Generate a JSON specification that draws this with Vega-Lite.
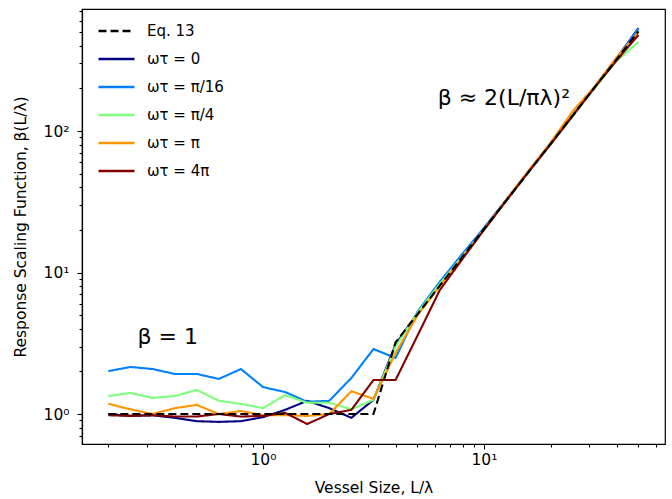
{
  "$schema": "https://vega.github.io/schema/vega-lite/v6.json",
  "width": 583,
  "height": 435,
  "autosize": {"type": "none"},
  "padding": {"left": 82, "top": 9, "right": 7, "bottom": 55},
  "background": "white",
  "config": {
    "view": {"stroke": "black", "strokeWidth": 1.2},
    "font": "DejaVu Sans",
    "axis": {
      "domainColor": "black", "domainWidth": 1.2, "tickColor": "black", "tickWidth": 1.1,
      "labelColor": "black", "titleColor": "black", "labelFont": "DejaVu Sans", "titleFont": "DejaVu Sans",
      "labelFontSize": 15.5, "titleFontSize": 15.5, "titleFontWeight": "normal", "grid": false
    },
    "legend": {"labelFont": "DejaVu Sans", "labelFontSize": 15, "labelColor": "black"}
  },
  "datasets": {
    "lines": [
      {"x": 0.2, "y": 1, "s": "Eq. 13"}, {"x": 0.2517, "y": 1, "s": "Eq. 13"}, {"x": 0.3169, "y": 1, "s": "Eq. 13"}, {"x": 0.3989, "y": 1, "s": "Eq. 13"}, {"x": 0.5021, "y": 1, "s": "Eq. 13"}, {"x": 0.632, "y": 1, "s": "Eq. 13"}, {"x": 0.7955, "y": 1, "s": "Eq. 13"}, {"x": 1.0013, "y": 1, "s": "Eq. 13"}, {"x": 1.2604, "y": 1, "s": "Eq. 13"}, {"x": 1.5865, "y": 1, "s": "Eq. 13"}, {"x": 1.997, "y": 1, "s": "Eq. 13"}, {"x": 2.5136, "y": 1, "s": "Eq. 13"}, {"x": 3.164, "y": 1, "s": "Eq. 13"}, {"x": 3.9826, "y": 3.21, "s": "Eq. 13"}, {"x": 5.013, "y": 5.09, "s": "Eq. 13"}, {"x": 6.3099, "y": 8.07, "s": "Eq. 13"}, {"x": 7.9424, "y": 12.78, "s": "Eq. 13"}, {"x": 9.9973, "y": 20.25, "s": "Eq. 13"}, {"x": 12.584, "y": 32.09, "s": "Eq. 13"}, {"x": 15.839, "y": 50.84, "s": "Eq. 13"}, {"x": 19.937, "y": 80.55, "s": "Eq. 13"}, {"x": 25.095, "y": 127.6, "s": "Eq. 13"}, {"x": 31.588, "y": 202.2, "s": "Eq. 13"}, {"x": 39.761, "y": 320.4, "s": "Eq. 13"}, {"x": 50.0, "y": 506.6, "s": "Eq. 13"},

      {"x": 0.2, "y": 1.0, "s": "ωτ = 0"}, {"x": 0.2517, "y": 0.97, "s": "ωτ = 0"}, {"x": 0.3169, "y": 0.98, "s": "ωτ = 0"}, {"x": 0.3989, "y": 0.94, "s": "ωτ = 0"}, {"x": 0.5021, "y": 0.89, "s": "ωτ = 0"}, {"x": 0.632, "y": 0.88, "s": "ωτ = 0"}, {"x": 0.7955, "y": 0.89, "s": "ωτ = 0"}, {"x": 1.0013, "y": 0.95, "s": "ωτ = 0"}, {"x": 1.2604, "y": 1.07, "s": "ωτ = 0"}, {"x": 1.5865, "y": 1.24, "s": "ωτ = 0"}, {"x": 1.997, "y": 1.1, "s": "ωτ = 0"}, {"x": 2.5136, "y": 0.94, "s": "ωτ = 0"}, {"x": 3.164, "y": 1.26, "s": "ωτ = 0"}, {"x": 3.9826, "y": 3.1, "s": "ωτ = 0"}, {"x": 5.013, "y": 5.2, "s": "ωτ = 0"}, {"x": 6.3099, "y": 8.3, "s": "ωτ = 0"}, {"x": 7.9424, "y": 13.0, "s": "ωτ = 0"}, {"x": 9.9973, "y": 20.5, "s": "ωτ = 0"}, {"x": 12.584, "y": 32.5, "s": "ωτ = 0"}, {"x": 15.839, "y": 51, "s": "ωτ = 0"}, {"x": 19.937, "y": 81, "s": "ωτ = 0"}, {"x": 25.095, "y": 128, "s": "ωτ = 0"}, {"x": 31.588, "y": 204, "s": "ωτ = 0"}, {"x": 39.761, "y": 325, "s": "ωτ = 0"}, {"x": 50.0, "y": 534, "s": "ωτ = 0"},

      {"x": 0.2, "y": 2.01, "s": "ωτ = π/16"}, {"x": 0.2517, "y": 2.15, "s": "ωτ = π/16"}, {"x": 0.3169, "y": 2.08, "s": "ωτ = π/16"}, {"x": 0.3989, "y": 1.92, "s": "ωτ = π/16"}, {"x": 0.5021, "y": 1.92, "s": "ωτ = π/16"}, {"x": 0.632, "y": 1.77, "s": "ωτ = π/16"}, {"x": 0.7955, "y": 2.08, "s": "ωτ = π/16"}, {"x": 1.0013, "y": 1.55, "s": "ωτ = π/16"}, {"x": 1.2604, "y": 1.43, "s": "ωτ = π/16"}, {"x": 1.5865, "y": 1.22, "s": "ωτ = π/16"}, {"x": 1.997, "y": 1.24, "s": "ωτ = π/16"}, {"x": 2.5136, "y": 1.8, "s": "ωτ = π/16"}, {"x": 3.164, "y": 2.88, "s": "ωτ = π/16"}, {"x": 3.9826, "y": 2.49, "s": "ωτ = π/16"}, {"x": 5.013, "y": 5.3, "s": "ωτ = π/16"}, {"x": 6.3099, "y": 8.6, "s": "ωτ = π/16"}, {"x": 7.9424, "y": 13.4, "s": "ωτ = π/16"}, {"x": 9.9973, "y": 20.6, "s": "ωτ = π/16"}, {"x": 12.584, "y": 32.4, "s": "ωτ = π/16"}, {"x": 15.839, "y": 51, "s": "ωτ = π/16"}, {"x": 19.937, "y": 80, "s": "ωτ = π/16"}, {"x": 25.095, "y": 127, "s": "ωτ = π/16"}, {"x": 31.588, "y": 203, "s": "ωτ = π/16"}, {"x": 39.761, "y": 325, "s": "ωτ = π/16"}, {"x": 50.0, "y": 530, "s": "ωτ = π/16"},

      {"x": 0.2, "y": 1.34, "s": "ωτ = π/4"}, {"x": 0.2517, "y": 1.41, "s": "ωτ = π/4"}, {"x": 0.3169, "y": 1.3, "s": "ωτ = π/4"}, {"x": 0.3989, "y": 1.34, "s": "ωτ = π/4"}, {"x": 0.5021, "y": 1.48, "s": "ωτ = π/4"}, {"x": 0.632, "y": 1.24, "s": "ωτ = π/4"}, {"x": 0.7955, "y": 1.18, "s": "ωτ = π/4"}, {"x": 1.0013, "y": 1.1, "s": "ωτ = π/4"}, {"x": 1.2604, "y": 1.36, "s": "ωτ = π/4"}, {"x": 1.5865, "y": 1.2, "s": "ωτ = π/4"}, {"x": 1.997, "y": 1.2, "s": "ωτ = π/4"}, {"x": 2.5136, "y": 1.08, "s": "ωτ = π/4"}, {"x": 3.164, "y": 1.26, "s": "ωτ = π/4"}, {"x": 3.9826, "y": 3.0, "s": "ωτ = π/4"}, {"x": 5.013, "y": 5.2, "s": "ωτ = π/4"}, {"x": 6.3099, "y": 8.3, "s": "ωτ = π/4"}, {"x": 7.9424, "y": 12.9, "s": "ωτ = π/4"}, {"x": 9.9973, "y": 20.0, "s": "ωτ = π/4"}, {"x": 12.584, "y": 32.0, "s": "ωτ = π/4"}, {"x": 15.839, "y": 51, "s": "ωτ = π/4"}, {"x": 19.937, "y": 80, "s": "ωτ = π/4"}, {"x": 25.095, "y": 126, "s": "ωτ = π/4"}, {"x": 31.588, "y": 200, "s": "ωτ = π/4"}, {"x": 39.761, "y": 312, "s": "ωτ = π/4"}, {"x": 50.0, "y": 425, "s": "ωτ = π/4"},

      {"x": 0.2, "y": 1.18, "s": "ωτ = π"}, {"x": 0.2517, "y": 1.08, "s": "ωτ = π"}, {"x": 0.3169, "y": 1.0, "s": "ωτ = π"}, {"x": 0.3989, "y": 1.1, "s": "ωτ = π"}, {"x": 0.5021, "y": 1.16, "s": "ωτ = π"}, {"x": 0.632, "y": 1.0, "s": "ωτ = π"}, {"x": 0.7955, "y": 1.05, "s": "ωτ = π"}, {"x": 1.0013, "y": 0.98, "s": "ωτ = π"}, {"x": 1.2604, "y": 0.98, "s": "ωτ = π"}, {"x": 1.5865, "y": 0.97, "s": "ωτ = π"}, {"x": 1.997, "y": 1.0, "s": "ωτ = π"}, {"x": 2.5136, "y": 1.45, "s": "ωτ = π"}, {"x": 3.164, "y": 1.28, "s": "ωτ = π"}, {"x": 3.9826, "y": 2.7, "s": "ωτ = π"}, {"x": 5.013, "y": 5.0, "s": "ωτ = π"}, {"x": 6.3099, "y": 8.0, "s": "ωτ = π"}, {"x": 7.9424, "y": 12.6, "s": "ωτ = π"}, {"x": 9.9973, "y": 20.0, "s": "ωτ = π"}, {"x": 12.584, "y": 32.5, "s": "ωτ = π"}, {"x": 15.839, "y": 52, "s": "ωτ = π"}, {"x": 19.937, "y": 82, "s": "ωτ = π"}, {"x": 25.095, "y": 137, "s": "ωτ = π"}, {"x": 31.588, "y": 205, "s": "ωτ = π"}, {"x": 39.761, "y": 330, "s": "ωτ = π"}, {"x": 50.0, "y": 500, "s": "ωτ = π"},

      {"x": 0.2, "y": 0.98, "s": "ωτ = 4π"}, {"x": 0.2517, "y": 0.97, "s": "ωτ = 4π"}, {"x": 0.3169, "y": 0.98, "s": "ωτ = 4π"}, {"x": 0.3989, "y": 0.96, "s": "ωτ = 4π"}, {"x": 0.5021, "y": 0.96, "s": "ωτ = 4π"}, {"x": 0.632, "y": 1.0, "s": "ωτ = 4π"}, {"x": 0.7955, "y": 0.96, "s": "ωτ = 4π"}, {"x": 1.0013, "y": 0.97, "s": "ωτ = 4π"}, {"x": 1.2604, "y": 1.02, "s": "ωτ = 4π"}, {"x": 1.5865, "y": 0.85, "s": "ωτ = 4π"}, {"x": 1.997, "y": 1.0, "s": "ωτ = 4π"}, {"x": 2.5136, "y": 1.07, "s": "ωτ = 4π"}, {"x": 3.164, "y": 1.74, "s": "ωτ = 4π"}, {"x": 3.9826, "y": 1.74, "s": "ωτ = 4π"}, {"x": 5.013, "y": 3.6, "s": "ωτ = 4π"}, {"x": 6.3099, "y": 7.5, "s": "ωτ = 4π"}, {"x": 7.9424, "y": 12.3, "s": "ωτ = 4π"}, {"x": 9.9973, "y": 20.0, "s": "ωτ = 4π"}, {"x": 12.584, "y": 32.0, "s": "ωτ = 4π"}, {"x": 15.839, "y": 51, "s": "ωτ = 4π"}, {"x": 19.937, "y": 80, "s": "ωτ = 4π"}, {"x": 25.095, "y": 127, "s": "ωτ = 4π"}, {"x": 31.588, "y": 202, "s": "ωτ = 4π"}, {"x": 39.761, "y": 315, "s": "ωτ = 4π"}, {"x": 50.0, "y": 477, "s": "ωτ = 4π"}
    ],
    "notes": [
      {"x": 0.3715, "y": 3.5, "label": "β = 1"},
      {"x": 12.3, "y": 171, "label": "β ≈ 2(L/πλ)²"}
    ]
  },
  "resolve": {"axis": {"x": "independent", "y": "independent"}},
  "layer": [
    {
      "data": {"name": "lines"},
      "transform": [{"filter": "datum.s !== 'Eq. 13'"}],
      "mark": {"type": "line", "strokeWidth": 2.1, "clip": true},
      "encoding": {
        "x": {"field": "x", "type": "quantitative",
          "scale": {"type": "log", "domain": [0.152, 65.9], "nice": false},
          "axis": {"orient": "bottom", "values": [1, 10], "labelExpr": "datum.value < 5 ? '10⁰' : '10¹'",
            "tickSize": 5, "labelPadding": 3, "title": "Vessel Size, L/λ", "titlePadding": 13, "labelFlush": false,
            "labelFontSize": 15.5, "titleFontSize": 15.5, "labelFont": "DejaVu Sans", "titleFont": "DejaVu Sans",
            "titleFontWeight": "normal", "labelColor": "black", "titleColor": "black", "domainColor": "black", "tickColor": "black"}},
        "y": {"field": "y", "type": "quantitative",
          "scale": {"type": "log", "domain": [0.614, 728], "nice": false},
          "axis": {"orient": "left", "values": [1, 10, 100], "labelExpr": "datum.value < 5 ? '10⁰' : datum.value < 50 ? '10¹' : '10²'",
            "tickSize": 5, "labelPadding": 8, "title": "Response Scaling Function, β(L/λ)", "titlePadding": 15, "labelFlush": false,
            "labelFontSize": 15.5, "titleFontSize": 15.5, "labelFont": "DejaVu Sans", "titleFont": "DejaVu Sans",
            "titleFontWeight": "normal", "labelColor": "black", "titleColor": "black", "domainColor": "black", "tickColor": "black"}},
        "color": {"field": "s", "type": "nominal",
          "scale": {"domain": ["Eq. 13", "ωτ = 0", "ωτ = π/16", "ωτ = π/4", "ωτ = π", "ωτ = 4π"],
            "range": ["#000000", "#000080", "#0080ff", "#7dff7a", "#ff9400", "#800000"]},
          "legend": {"title": null, "orient": "none", "legendX": 15, "legendY": 2.5, "symbolType": "stroke",
            "symbolStrokeWidth": 2.3, "symbolSize": 1296, "labelOffset": 11, "rowPadding": -9.2, "padding": 0,
            "labelFontSize": 15, "labelFont": "DejaVu Sans", "labelColor": "black"}},
        "strokeDash": {"field": "s", "type": "nominal",
          "scale": {"domain": ["Eq. 13", "ωτ = 0", "ωτ = π/16", "ωτ = π/4", "ωτ = π", "ωτ = 4π"],
            "range": [[8, 4], [1, 0], [1, 0], [1, 0], [1, 0], [1, 0]]},
          "legend": {"title": null, "orient": "none", "legendX": 15, "legendY": 2.5, "symbolType": "stroke",
            "symbolStrokeWidth": 2.3, "symbolSize": 1296, "labelOffset": 11, "rowPadding": -9.2, "padding": 0,
            "labelFontSize": 15, "labelFont": "DejaVu Sans", "labelColor": "black"}}
      }
    },
    {
      "data": {"name": "lines"},
      "transform": [{"filter": "datum.s === 'Eq. 13'"}],
      "mark": {"type": "line", "strokeWidth": 2.1, "clip": true},
      "encoding": {
        "x": {"field": "x", "type": "quantitative", "scale": {"type": "log", "domain": [0.152, 65.9], "nice": false}, "axis": null},
        "y": {"field": "y", "type": "quantitative", "scale": {"type": "log", "domain": [0.614, 728], "nice": false}, "axis": null},
        "color": {"field": "s", "type": "nominal"},
        "strokeDash": {"field": "s", "type": "nominal"}
      }
    },
    {
      "data": {"name": "notes"},
      "mark": {"type": "text", "fontSize": 22, "font": "DejaVu Sans", "align": "center", "baseline": "middle", "color": "black"},
      "encoding": {
        "x": {"field": "x", "type": "quantitative", "scale": {"type": "log", "domain": [0.152, 65.9], "nice": false},
          "axis": {"orient": "bottom", "values": [0.2, 0.3, 0.4, 0.5, 0.6, 0.7, 0.8, 0.9, 2, 3, 4, 5, 6, 7, 8, 9, 20, 30, 40, 50, 60],
            "labels": false, "domain": false, "tickSize": 3, "title": null, "grid": false, "tickColor": "black"}},
        "y": {"field": "y", "type": "quantitative", "scale": {"type": "log", "domain": [0.614, 728], "nice": false},
          "axis": {"orient": "left", "values": [0.7, 0.8, 0.9, 2, 3, 4, 5, 6, 7, 8, 9, 20, 30, 40, 50, 60, 70, 80, 90, 200, 300, 400, 500, 600, 700],
            "labels": false, "domain": false, "tickSize": 3, "title": null, "grid": false, "tickColor": "black"}},
        "text": {"field": "label", "type": "nominal"}
      }
    }
  ]
}
